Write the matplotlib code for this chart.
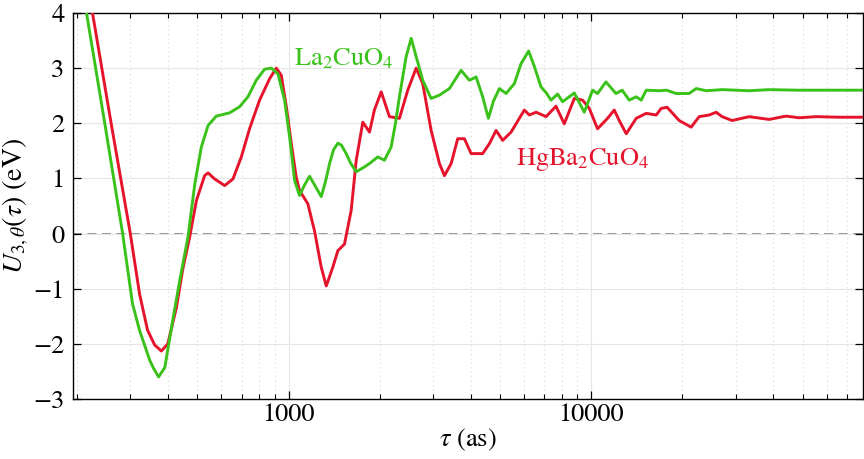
import matplotlib
matplotlib.use("Agg")
import matplotlib.pyplot as plt
import matplotlib.ticker as ticker

plt.rcParams['font.family'] = ['STIXGeneral', 'DejaVu Serif']
plt.rcParams['mathtext.fontset'] = 'stix'

# tau (as), U (eV)
tau_la = [204, 215, 247, 283, 305, 322, 348, 357, 372, 390, 414, 437, 465, 490, 515,
          542, 577, 639, 689, 734, 782, 833, 877, 922, 970, 1008, 1047, 1087, 1129,
          1173, 1228, 1282, 1325, 1366, 1408, 1455, 1496, 1550, 1602, 1673, 1782, 1851,
          1971, 2074, 2182, 2255, 2324, 2446, 2541, 2639, 2775, 2958, 3151, 3400, 3558,
          3715, 3957, 4164, 4378, 4572, 4750, 4971, 5231, 5571, 5861, 6210, 6485, 6823,
          7104, 7362, 7741, 8039, 8789, 9482, 10100, 10491, 11181, 12064, 12656, 13348,
          14078, 14622, 15188, 16771, 17690, 19076, 21056, 22207, 23966, 27061, 33220,
          38680, 48590, 65840, 82700]
u_la = [4.8, 4.0, 2.0, 0.0, -1.27, -1.76, -2.3, -2.43, -2.6, -2.43, -1.58, -0.85, -0.07, 0.9, 1.57,
        1.96, 2.13, 2.19, 2.3, 2.48, 2.78, 2.98, 3.0, 2.9, 2.42, 1.75, 0.96, 0.69, 0.88,
        1.04, 0.85, 0.67, 0.95, 1.27, 1.52, 1.64, 1.6, 1.45, 1.28, 1.12, 1.21, 1.27,
        1.39, 1.33, 1.57, 2.0, 2.48, 3.21, 3.54, 3.21, 2.78, 2.45, 2.51, 2.63, 2.8,
        2.96, 2.78, 2.84, 2.48, 2.09, 2.4, 2.63, 2.54, 2.72, 3.08, 3.31, 3.03, 2.66,
        2.55, 2.42, 2.53, 2.39, 2.55, 2.2, 2.6, 2.54, 2.75, 2.54, 2.6, 2.42,
        2.48, 2.42, 2.6, 2.59, 2.6, 2.54, 2.54, 2.63, 2.59, 2.61, 2.59,
        2.61, 2.6, 2.6, 2.6]

tau_hg = [212, 225, 260, 300, 322, 342, 361, 380, 399, 426, 447, 471, 496, 528, 542,
          570, 615, 655, 698, 743, 802, 866, 911, 946, 983, 1021, 1060, 1087, 1158,
          1218, 1282, 1332, 1400, 1455, 1530, 1610, 1673, 1759, 1851, 1921, 2023, 2154,
          2324, 2476, 2639, 2775, 2958, 3151, 3273, 3444, 3621, 3810, 4009, 4378, 4607,
          4847, 5097, 5433, 5643, 6010, 6244, 6572, 7090, 7646, 8143, 8789, 9361, 9849,
          10491, 11318, 11910, 12371, 13047, 14078, 15188, 16393, 17022, 17810, 19518,
          21380, 22720, 24519, 25853, 27061, 29198, 33220, 38680, 44020, 48590, 55290,
          65840, 82700]
u_hg = [4.86, 4.0, 1.96, 0.0, -1.1, -1.75, -2.02, -2.13, -2.0, -1.34, -0.65, -0.07, 0.6, 1.05, 1.1,
        0.99, 0.87, 0.99, 1.39, 1.9, 2.42, 2.81, 3.0, 2.87, 2.3, 1.63, 1.02, 0.78, 0.54,
        0.05, -0.61, -0.95, -0.61, -0.31, -0.19, 0.42, 1.33, 2.02, 1.84, 2.24, 2.57, 2.12,
        2.09, 2.6, 3.0, 2.72, 1.87, 1.27, 1.05, 1.27, 1.72, 1.72, 1.45, 1.45, 1.63,
        1.87, 1.69, 1.84, 1.99, 2.24, 2.15, 2.2, 2.12, 2.31, 1.99, 2.45, 2.42, 2.27,
        1.9, 2.09, 2.24, 2.05, 1.81, 2.09, 2.18, 2.15, 2.27, 2.29, 2.05,
        1.93, 2.12, 2.15, 2.2, 2.12, 2.05, 2.12, 2.07, 2.13, 2.1, 2.12,
        2.11, 2.11]

green = '#3ac21a'
red = '#e5142c'

fig = plt.figure(figsize=(8.64, 4.59), dpi=100)
ax = fig.add_axes([0.0845, 0.1307, 0.9143, 0.841])

ax.axhline(0, color='#8a8a8a', lw=1.3, ls=(0, (5, 3)), zorder=1)
ax.plot(tau_hg, u_hg, color=red, lw=2.1, zorder=3, solid_joinstyle='round')
ax.plot(tau_la, u_la, color=green, lw=2.1, zorder=4, solid_joinstyle='round')

ax.set_xscale('log')
ax.set_xlim(194, 79000)
ax.set_ylim(-3, 4)
ax.xaxis.set_major_formatter(ticker.FuncFormatter(lambda v, p: '%d' % v))
ax.xaxis.set_minor_formatter(ticker.NullFormatter())
ax.yaxis.set_major_locator(ticker.MultipleLocator(1))

ax.grid(True, which='major', color='#e6e6e6', lw=0.8, zorder=0)
ax.grid(True, which='minor', axis='x', color='#dadada', lw=0.8, ls=(0, (1, 3)), zorder=0)

ax.tick_params(which='both', direction='in', top=True, right=True, labelsize=19)
ax.tick_params(which='major', length=6, width=0.9)
ax.tick_params(which='minor', length=3.5, width=0.8)
ax.tick_params(axis='y', pad=6)
ax.tick_params(axis='x', pad=3)
for s in ax.spines.values():
    s.set_linewidth(1.0)

ax.set_xlabel(r'$\tau$ (as)', fontsize=19, labelpad=0)
ax.set_ylabel(r'$U_{3,\theta}(\tau)$ (eV)', fontsize=20, labelpad=2)

ax.text(1046, 3.05, r'La$_2$CuO$_4$', color=green, fontsize=19)
ax.text(5655, 1.24, r'HgBa$_2$CuO$_4$', color=red, fontsize=19)

fig.savefig('out.png', dpi=100)
